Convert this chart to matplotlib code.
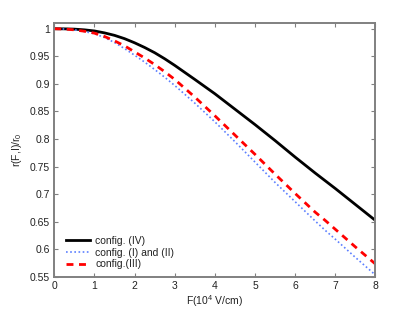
import matplotlib
matplotlib.use("Agg")
import matplotlib.pyplot as plt
import numpy as np

plt.rcParams['font.family'] = ['Liberation Sans', 'DejaVu Sans']
plt.rcParams['mathtext.fontset'] = 'custom'
plt.rcParams['mathtext.rm'] = 'Liberation Sans'
plt.rcParams['mathtext.it'] = 'Liberation Sans'

F = [0, 0.25, 0.5, 0.75, 1, 1.25, 1.5, 1.75, 2, 2.25, 2.5, 2.75, 3,
     3.5, 4, 4.5, 5, 5.5, 6, 6.5, 6.75, 7, 7.5, 8]
r_IV = [1.0, 0.9998, 0.9993, 0.998, 0.996, 0.9925, 0.988, 0.982, 0.9745, 0.966, 0.9565, 0.9455, 0.9335,
        0.908, 0.882, 0.854, 0.826, 0.797, 0.767, 0.738, 0.724, 0.710, 0.681, 0.652]
r_I_II = [1.0, 0.9995, 0.998, 0.995, 0.991, 0.984, 0.975, 0.964, 0.952, 0.9395, 0.926, 0.912, 0.897,
          0.865, 0.831, 0.795, 0.758, 0.721, 0.686, 0.651, 0.634, 0.618, 0.585, 0.553]
r_III = [1.0, 0.9995, 0.998, 0.9955, 0.992, 0.986, 0.978, 0.969, 0.958, 0.947, 0.935, 0.922, 0.908,
         0.876, 0.842, 0.807, 0.772, 0.736, 0.701, 0.667, 0.652, 0.636, 0.604, 0.573]

xticks = [0, 1, 2, 3, 4, 5, 6, 7, 8]
yticks = [0.55, 0.6, 0.65, 0.7, 0.75, 0.8, 0.85, 0.9, 0.95, 1.0]
ytick_labels = ['0.55', '0.6', '0.65', '0.7', '0.75', '0.8', '0.85', '0.9', '0.95', '1']

fig = plt.figure(figsize=(4.15, 3.12), dpi=100)
ax = fig.add_axes([0.1308, 0.1131, 0.774, 0.8142])

ax.plot(F, r_IV, color='black', lw=2.0, label='config. (IV)')
ax.plot(F, r_I_II, color='#5b7fff', lw=1.2, ls=(0, (1, 1.5)), label='config. (I) and (II)')
ax.plot(F, r_III, color='red', lw=2.0, ls=(0, (2.5, 2)), label='config.(III)')

ax.set_xlim(0, 8)
ax.set_ylim(0.55, 1.011)
ax.set_xticks(xticks)
ax.set_xticklabels([str(x) for x in xticks])
ax.set_yticks(yticks)
ax.set_yticklabels(ytick_labels)

for s in ax.spines.values():
    s.set_color('#808080')
    s.set_linewidth(1.4)
ax.tick_params(direction='in', length=3, width=0.8, color='#808080', labelsize=7.5,
               labelcolor='#222222', top=True, right=True, pad=3)

ax.set_xlabel('F(10$^4$ V/cm)', fontsize=7.5, color='#222222', labelpad=2)
ax.set_ylabel('r(F,I)/r$_0$', fontsize=7.5, color='#222222', labelpad=4)

leg = ax.legend(loc='lower left', frameon=False, fontsize=7.5, handlelength=2.3,
                handletextpad=0.5, labelspacing=0.15, borderaxespad=0.0,
                bbox_to_anchor=(0.024, 0.013))
for t in leg.get_texts():
    t.set_color('#222222')

fig.savefig('out.png', dpi=100)
